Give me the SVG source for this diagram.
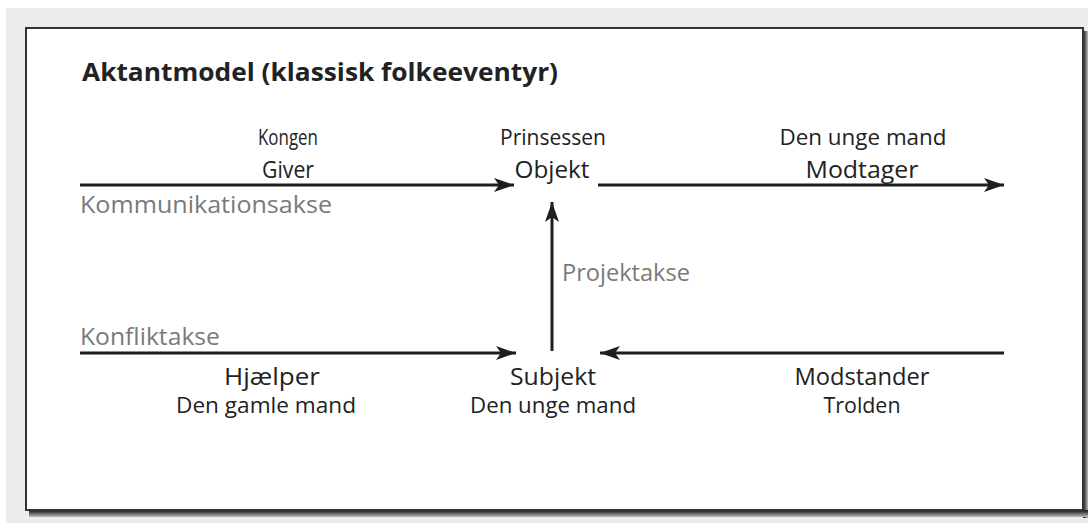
<svg xmlns="http://www.w3.org/2000/svg" width="1088" height="523" viewBox="0 0 1088 523">
  <style>
    .t { font-family: "Open Sans", "DejaVu Sans", sans-serif; fill: #222; text-anchor: middle; font-weight: 500; }
    .top { font-size: 21px; }
    .role { font-size: 24px; }
    .axis { font-family: "Open Sans", "DejaVu Sans", sans-serif; fill: #7a7a7a; font-size: 23px; font-weight: 500; }
    .title { font-family: "Open Sans", "DejaVu Sans", sans-serif; font-weight: bold; font-size: 25px; fill: #222; }
    .c { stroke: #1e1e1e; stroke-width: 3; fill: none; }
  </style>
  <defs>
    <marker id="ah" markerUnits="userSpaceOnUse" markerWidth="22" markerHeight="14" refX="20" refY="7" orient="auto">
      <path d="M0,0 L20,7 L0,14 L5,7 Z" fill="#1e1e1e"/>
    </marker>
    <linearGradient id="shR" x1="0" y1="0" x2="1" y2="0">
      <stop offset="0" stop-color="#111"/>
      <stop offset="1" stop-color="#bbb"/>
    </linearGradient>
    <linearGradient id="shB" x1="0" y1="0" x2="0" y2="1">
      <stop offset="0" stop-color="#111"/>
      <stop offset="1" stop-color="#bbb"/>
    </linearGradient>
  </defs>

  <!-- background -->
  <rect x="0" y="0" width="1088" height="523" fill="#ffffff"/>
  <rect x="6" y="8" width="1082" height="515" fill="#ececec"/>

  <!-- frame with shadow -->
  <rect x="1083" y="31" width="5" height="487" fill="url(#shR)"/>
  <rect x="29" y="510" width="1059" height="7" fill="url(#shB)"/>
  <rect x="26" y="28" width="1057" height="482" fill="#ffffff" stroke="#333" stroke-width="2"/>

  <text class="title" x="82" y="81" textLength="476" lengthAdjust="spacingAndGlyphs">Aktantmodel (klassisk folkeeventyr)</text>

  <g id="connectors">
    <line class="c" x1="80" y1="185" x2="514" y2="185" marker-end="url(#ah)"/>
    <line class="c" x1="598" y1="185" x2="1004" y2="185" marker-end="url(#ah)"/>
    <line class="c" x1="552" y1="351" x2="552" y2="202" marker-end="url(#ah)"/>
    <line class="c" x1="80" y1="353" x2="516" y2="353" marker-end="url(#ah)"/>
    <line class="c" x1="1004" y1="353" x2="600" y2="353" marker-end="url(#ah)"/>
  </g>

  <g id="giver">
    <text class="t top" x="288" y="145" textLength="60" lengthAdjust="spacingAndGlyphs">Kongen</text>
    <text class="t role" x="288" y="178" textLength="52" lengthAdjust="spacingAndGlyphs">Giver</text>
  </g>
  <g id="objekt">
    <text class="t top" x="553" y="145" textLength="106" lengthAdjust="spacingAndGlyphs">Prinsessen</text>
    <text class="t role" x="552" y="178" textLength="75" lengthAdjust="spacingAndGlyphs">Objekt</text>
  </g>
  <g id="modtager">
    <text class="t top" x="863" y="145" textLength="167" lengthAdjust="spacingAndGlyphs">Den unge mand</text>
    <text class="t role" x="862" y="178" textLength="113" lengthAdjust="spacingAndGlyphs">Modtager</text>
  </g>
  <g id="hjaelper">
    <text class="t role" x="272" y="385" textLength="96" lengthAdjust="spacingAndGlyphs">Hjælper</text>
    <text class="t top" x="266" y="413" textLength="180" lengthAdjust="spacingAndGlyphs">Den gamle mand</text>
  </g>
  <g id="subjekt">
    <text class="t role" x="553" y="385" textLength="86" lengthAdjust="spacingAndGlyphs">Subjekt</text>
    <text class="t top" x="553" y="413" textLength="166" lengthAdjust="spacingAndGlyphs">Den unge mand</text>
  </g>
  <g id="modstander">
    <text class="t role" x="862" y="385" textLength="135" lengthAdjust="spacingAndGlyphs">Modstander</text>
    <text class="t top" x="862" y="413" textLength="77" lengthAdjust="spacingAndGlyphs">Trolden</text>
  </g>

  <g id="axes">
    <text class="axis" x="80" y="213" textLength="252" lengthAdjust="spacingAndGlyphs">Kommunikationsakse</text>
    <text class="axis" x="562" y="281" textLength="128" lengthAdjust="spacingAndGlyphs">Projektakse</text>
    <text class="axis" x="80" y="345" textLength="140" lengthAdjust="spacingAndGlyphs">Konfliktakse</text>
  </g>
</svg>
